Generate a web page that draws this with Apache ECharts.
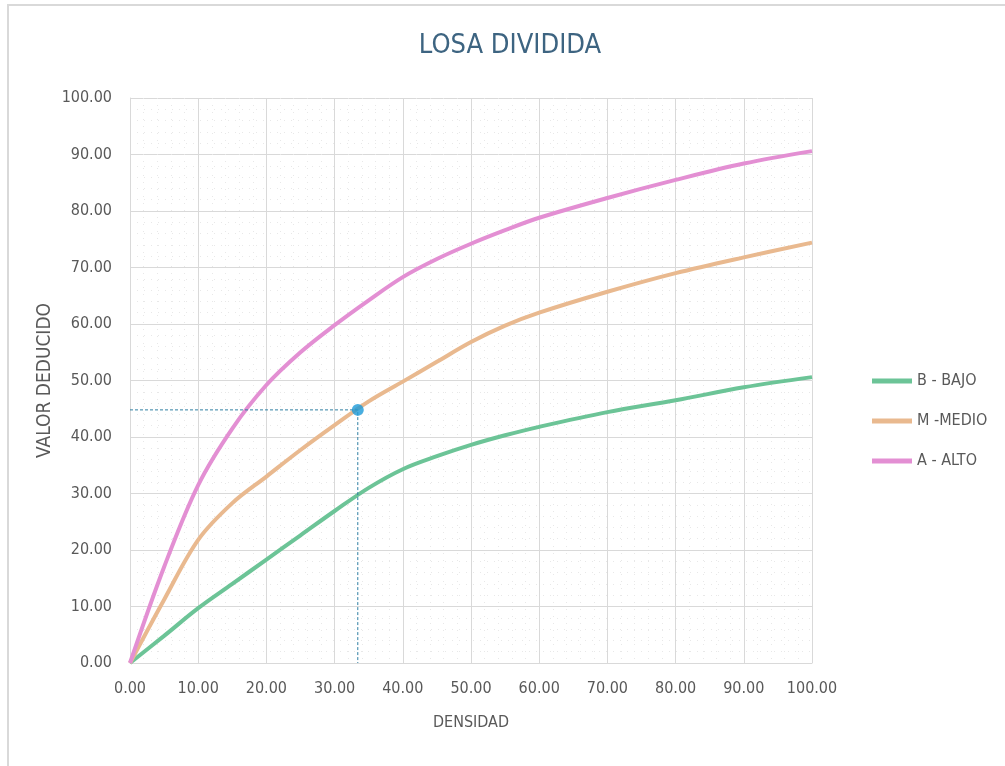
<!DOCTYPE html>
<html>
<head>
<meta charset="utf-8">
<title>LOSA DIVIDIDA</title>
<script src="https://cdn.jsdelivr.net/npm/echarts@6/dist/echarts.min.js"></script>
<style>
  html, body { margin: 0; padding: 0; background: #ffffff; }
  #chart { width: 1005px; height: 766px; }
</style>
</head>
<body>
<div id="chart"></div>
<script>
// Densidad (%) sampled along each curve
const densidad = [0, 5, 10, 15, 20, 25, 30, 35, 40, 45, 50, 55, 60, 70, 80, 90, 100];

// Valor deducido per severity level
const bajo  = [0, 4.8, 9.7, 14.0, 18.3, 22.6, 26.9, 31.0, 34.3, 36.6, 38.6, 40.3, 41.8, 44.4, 46.5, 48.8, 50.6];
const medio = [0, 11.2, 21.8, 28.3, 33.0, 37.7, 42.1, 46.3, 49.8, 53.3, 56.8, 59.7, 62.0, 65.7, 69.0, 71.8, 74.4];
const alto  = [0, 17.0, 31.5, 41.5, 49.2, 55.0, 59.8, 64.2, 68.3, 71.5, 74.2, 76.6, 78.8, 82.3, 85.5, 88.4, 90.6];

const seriesNames = ['B - BAJO', 'M -MEDIO', 'A - ALTO'];

// Reading point: densidad -> valor deducido
const lecturaX = 33.4;
const lecturaY = 44.8;

const axisTicks = [0, 10, 20, 30, 40, 50, 60, 70, 80, 90, 100];

const FONT = '"Liberation Sans Narrow", "Arial Narrow", "DejaVu Sans Condensed", sans-serif';
const TEXT_GRAY = '#595959';
const GRID_GRAY = '#d9d9d9';

function pairs(xs, ys) {
  return xs.map((x, i) => [x, ys[i]]);
}

const chart = echarts.init(document.getElementById('chart'), null, { renderer: 'canvas' });

const valueAxis = (name, nameGap, nameRotate, nameSize) => ({
  type: 'value',
  min: axisTicks[0],
  max: axisTicks[axisTicks.length - 1],
  interval: axisTicks[1] - axisTicks[0],
  name: name,
  nameLocation: 'middle',
  nameGap: nameGap,
  nameRotate: nameRotate,
  nameMoveOverlap: false,
  nameTextStyle: { fontFamily: FONT, fontSize: nameSize, color: TEXT_GRAY },
  axisLine: { show: true, lineStyle: { color: GRID_GRAY, width: 1 } },
  axisTick: { show: false },
  axisLabel: {
    fontFamily: FONT, fontSize: 16, color: TEXT_GRAY, margin: 18,
    formatter: v => v.toFixed(2)
  },
  splitLine: { show: true, lineStyle: { color: GRID_GRAY, width: 1 } },
  minorTick: { show: false, splitNumber: 5 },
  minorSplitLine: { show: true, lineStyle: { color: '#e8e8e8', width: 1, type: [1, 6] } }
});

const curve = (name, values, color) => ({
  name: name,
  type: 'line',
  data: pairs(densidad, values),
  smooth: 0.35,
  showSymbol: false,
  symbol: 'none',
  lineStyle: { color: color, width: 4 },
  itemStyle: { color: color },
  emphasis: { disabled: true },
  z: 3
});

const option = {
  backgroundColor: '#ffffff',
  animation: false,
  title: {
    text: 'LOSA DIVIDIDA',
    left: 505,
    textAlign: 'center',
    top: 27,
    textStyle: { fontFamily: FONT, fontSize: 27, fontWeight: 'normal', color: '#3d6481' }
  },
  grid: { left: 130, right: 193, top: 98, bottom: 103, containLabel: false },
  legend: {
    orient: 'vertical',
    left: 867,
    top: 368,
    itemWidth: 40,
    itemHeight: 5,
    itemGap: 24,
    icon: 'rect',
    data: seriesNames,
    textStyle: { fontFamily: FONT, fontSize: 16, color: TEXT_GRAY }
  },
  xAxis: valueAxis('DENSIDAD', 52, 0, 16),
  yAxis: valueAxis('VALOR DEDUCIDO', 75, 90, 19),
  graphic: [{
    type: 'rect',
    shape: { x: 8, y: 5, width: 1010, height: 780 },
    style: { fill: 'none', stroke: '#d9d9d9', lineWidth: 2 },
    silent: true,
    z: -1
  }],
  series: [
    curve(seriesNames[0], bajo, '#6cc497'),
    curve(seriesNames[1], medio, '#e9b98f'),
    curve(seriesNames[2], alto, '#e38fd3'),
    {
      name: 'lectura',
      type: 'line',
      data: [[0, lecturaY], [lecturaX, lecturaY], [lecturaX, 0]],
      showSymbol: false,
      symbol: 'none',
      lineStyle: { color: '#2f7fa3', width: 1, type: [3, 2] },
      emphasis: { disabled: true },
      z: 4
    },
    {
      name: 'punto',
      type: 'scatter',
      data: [[lecturaX, lecturaY]],
      symbolSize: 12,
      itemStyle: { color: '#1b9ad8' },
      emphasis: { disabled: true },
      z: 5
    }
  ]
};

chart.setOption(option);
</script>
</body>
</html>
